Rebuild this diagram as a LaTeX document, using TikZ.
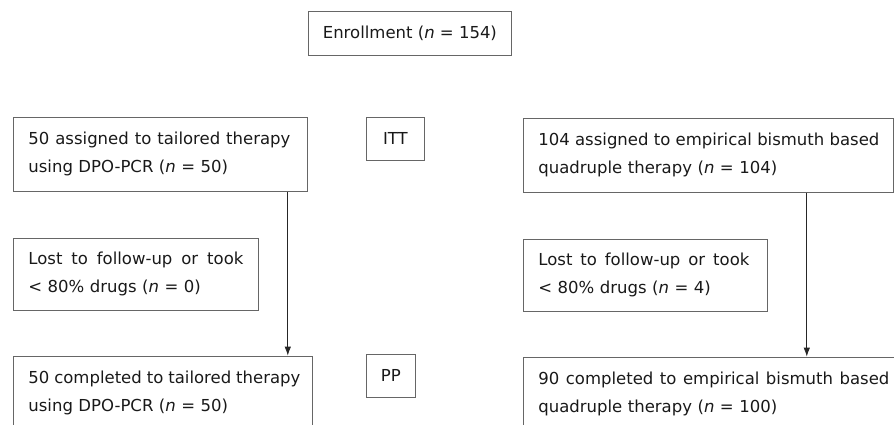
\documentclass[tikz,border=0pt]{standalone}
\usepackage{fontspec}
\setmainfont{DejaVu Sans}
\usetikzlibrary{positioning,arrows.meta}

\tikzset{
		basic/.style  = {draw=black!60, line width=0.8pt, rectangle, inner sep=0pt, text=black!90, font=\fontsize{16.5}{28}\selectfont},
		corner/.style = {basic, anchor=north west},
		group/.style  = {corner, align=left, inner xsep=15pt, minimum height=74pt},
		lost/.style   = {group, minimum height=72pt},
		tag/.style    = {corner, align=center, minimum height=43pt}
	}
% first line of a box, stretched over the given width
\newcommand{\fullline}[2]{\makebox[#1][s]{\spaceskip=0pt\xspaceskip=0pt\relax #2}}

\begin{document}
\begin{tikzpicture}[x=1pt, y=-1pt, >={Latex[length=9pt,width=6.5pt]}]
		\useasboundingbox (0,0) rectangle (894,425);
		\clip (0,0) rectangle (894,425);
		
		% enrollment at the top
		\node[corner, minimum width=203pt, minimum height=44pt] (enrol) at (308,11) {Enrollment (\textit{n} = 154)};
		
		% the ITT level
		\node[group, text width=264pt] (tail) at (13,117) {\fullline{262pt}{50 assigned to tailored therapy}\\using DPO-PCR (\textit{n} = 50)};
		\node[tag, minimum width=58pt] (itt) at (366,117) {ITT};
		\node[group, text width=340pt] (emp) at (523,118) {\fullline{341pt}{104 assigned to empirical bismuth based}\\quadruple therapy (\textit{n} = 104)};
		
		% the drop-outs, relatively positioned
		\node[lost, text width=215pt, below=46pt of tail.south west, anchor=north west] (lost1) {\fullline{215pt}{Lost to follow-up or took}\\< 80\% drugs (\textit{n} = 0)};
		\node[lost, text width=214pt, below=46pt of emp.south west, anchor=north west] (lost2) {\fullline{211pt}{Lost to follow-up or took}\\< 80\% drugs (\textit{n} = 4)};
		
		% the PP level
		\node[group, text width=269pt, below=45pt of lost1.south west, anchor=north west] (comp1) {\fullline{272pt}{50 completed to tailored therapy}\\using DPO-PCR (\textit{n} = 50)};
		\node[tag, minimum width=49pt] (pp) at (366,354) {PP};
		\node[group, text width=351pt, below=45pt of lost2.south west, anchor=north west] (comp2) {\fullline{351pt}{90 completed to empirical bismuth based}\\quadruple therapy (\textit{n} = 100)};
		
		% arrows from each ITT group down to its PP group
		\foreach \src/\dst/\shift in {tail/comp1/-20, emp/comp2/-87}
		\draw[->, line width=0.8pt, black!85] ([xshift=\shift pt]\src.south east) -- ([xshift=\shift pt]\src.south east |- \dst.north);
		
	\end{tikzpicture}
\end{document}
